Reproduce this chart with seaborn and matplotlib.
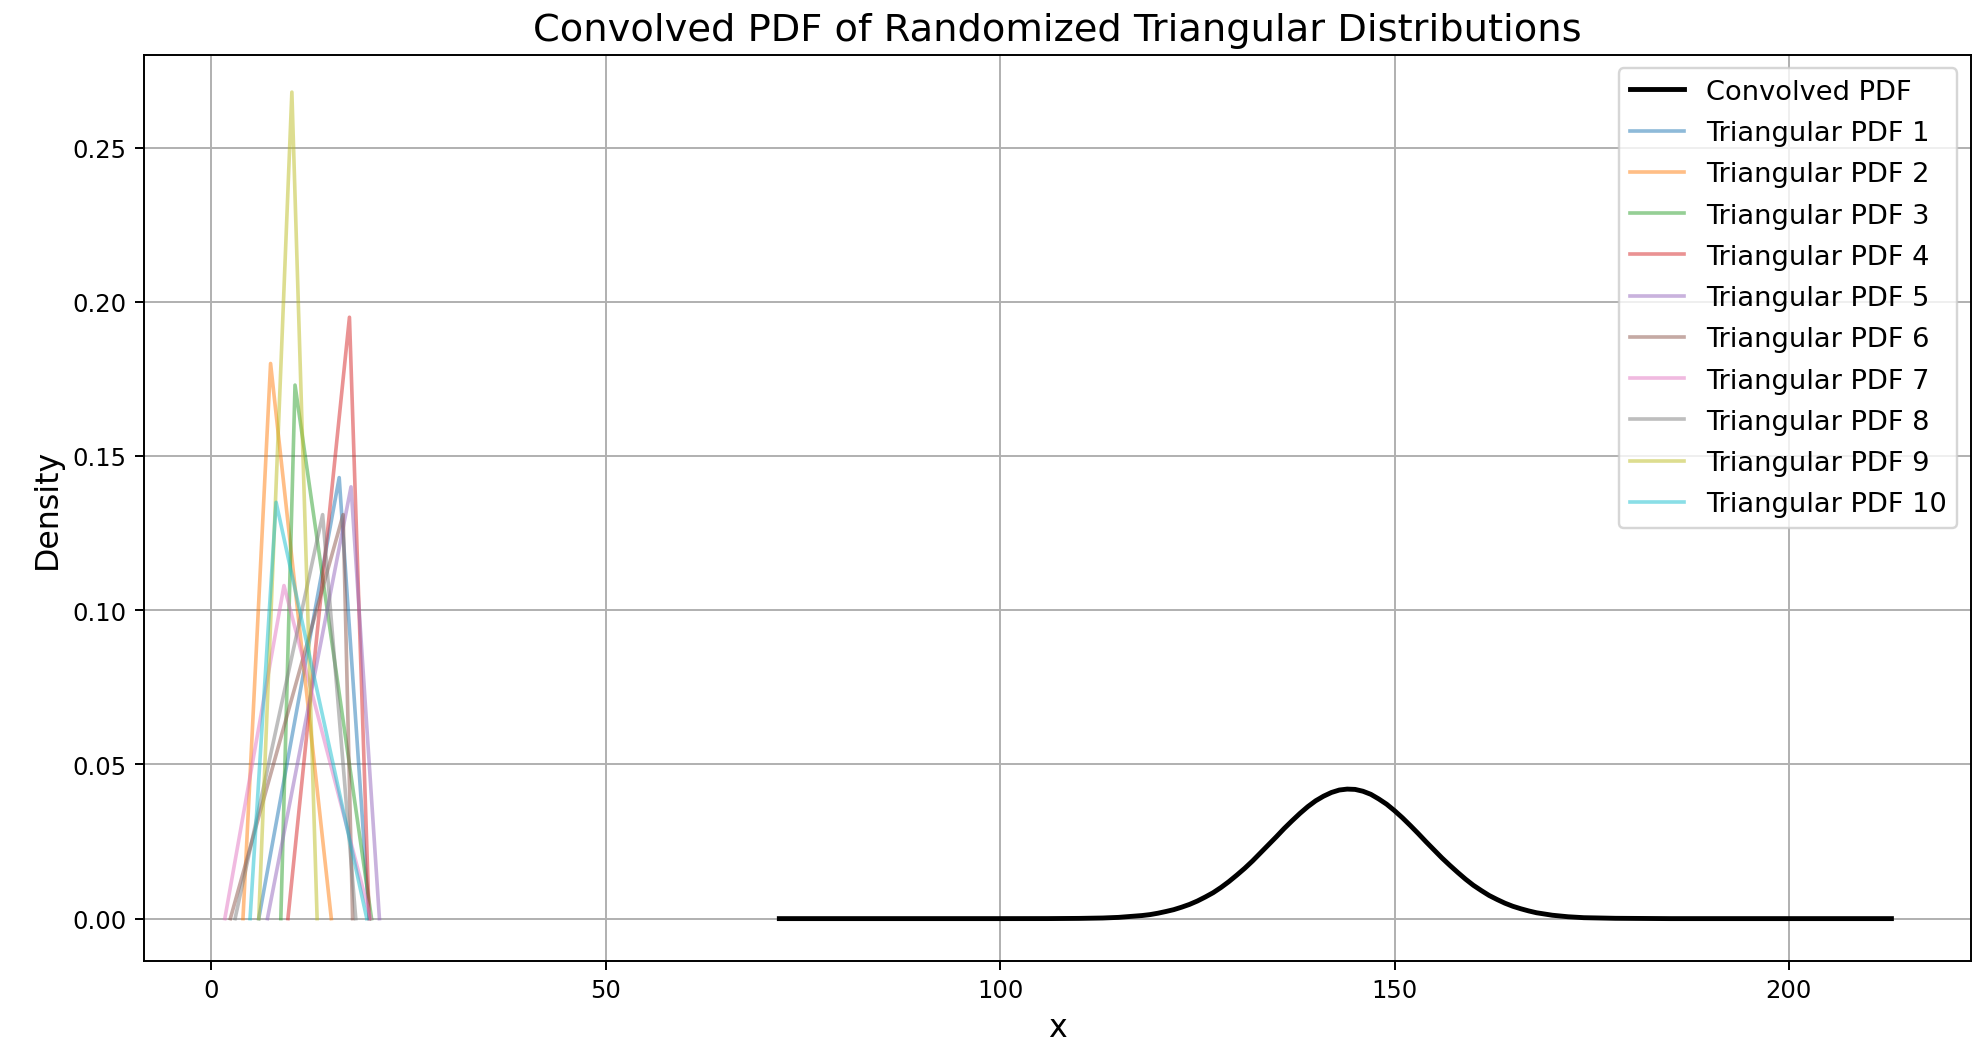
import numpy as np
import pandas as pd
import matplotlib
matplotlib.use("Agg")
import matplotlib.pyplot as plt
import seaborn as sns

# triangular pdfs: left, mode, right, peak height
tri_left = [6.0, 4.0, 8.8, 9.7, 7.1, 2.4, 1.7, 3.0, 6.0, 4.9]
tri_mode = [16.2, 7.5, 10.6, 17.5, 17.7, 16.7, 9.2, 14.1, 10.2, 8.2]
tri_right = [20.0, 15.2, 20.3, 20.0, 21.3, 17.9, 20.2, 18.3, 13.4, 19.7]
tri_peak = [0.143, 0.180, 0.173, 0.195, 0.140, 0.131, 0.108, 0.131, 0.268, 0.135]

# convolved pdf
conv_x = [72, 90, 100, 106, 110, 113, 115, 117, 118, 119,
          120, 121, 122, 123, 124, 125, 126, 127, 128, 129,
          130, 131, 132, 133, 134, 135, 136, 137, 138, 139,
          140, 141, 142, 143, 144, 145, 146, 147, 148, 149,
          150, 151, 152, 153, 154, 155, 156, 157, 158, 159,
          160, 161, 162, 163, 164, 165, 166, 167, 168, 169,
          170, 172, 174, 176, 178, 185, 195, 213]
conv_y = [0.0, 0.0, 0.0, 0.00001, 0.00007, 0.0002, 0.0004, 0.0008, 0.0010, 0.0013,
          0.00175, 0.0023, 0.0029, 0.0037, 0.0046, 0.0057, 0.0070, 0.0084, 0.0101, 0.0120,
          0.0141, 0.0163, 0.0187, 0.0213, 0.0239, 0.0265, 0.0292, 0.0317, 0.0341, 0.0363,
          0.0382, 0.0397, 0.0409, 0.0417, 0.0420, 0.0419, 0.0413, 0.0403, 0.0388, 0.0371,
          0.0350, 0.0327, 0.0302, 0.0276, 0.0249, 0.0223, 0.0197, 0.0173, 0.0150, 0.0128,
          0.0108, 0.0091, 0.0075, 0.0062, 0.0050, 0.0040, 0.0032, 0.0025, 0.0019, 0.0015,
          0.0011, 0.0006, 0.0003, 0.0002, 0.0001, 0.0, 0.0, 0.0]

colors = sns.color_palette("tab10")

fig, ax = plt.subplots(figsize=(11.286, 6.011), dpi=175)
fig.subplots_adjust(left=0.0727, right=0.998, bottom=0.0851, top=0.9473)

sns.lineplot(x=conv_x, y=conv_y, color="black", linewidth=2,
             label="Convolved PDF", ax=ax)

for i in range(len(tri_left)):
    sns.lineplot(x=[tri_left[i], tri_mode[i], tri_right[i]],
                 y=[0, tri_peak[i], 0],
                 color=colors[i], alpha=0.5, linewidth=1.5,
                 label=f"Triangular PDF {i + 1}", ax=ax)

ax.set_xlim(-8.6, 223.1)
ax.set_ylim(-0.0139, 0.2802)
ax.set_xticks([0, 50, 100, 150, 200])
ax.set_yticks([0.0, 0.05, 0.10, 0.15, 0.20, 0.25])
ax.set_title("Convolved PDF of Randomized Triangular Distributions", fontsize=15.8)
ax.set_xlabel("x", fontsize=13)
ax.set_ylabel("Density", fontsize=13)
ax.legend(loc="upper right", fontsize=11.2, labelspacing=0.56)
ax.grid(True)

fig.savefig("out.png", dpi=175)
